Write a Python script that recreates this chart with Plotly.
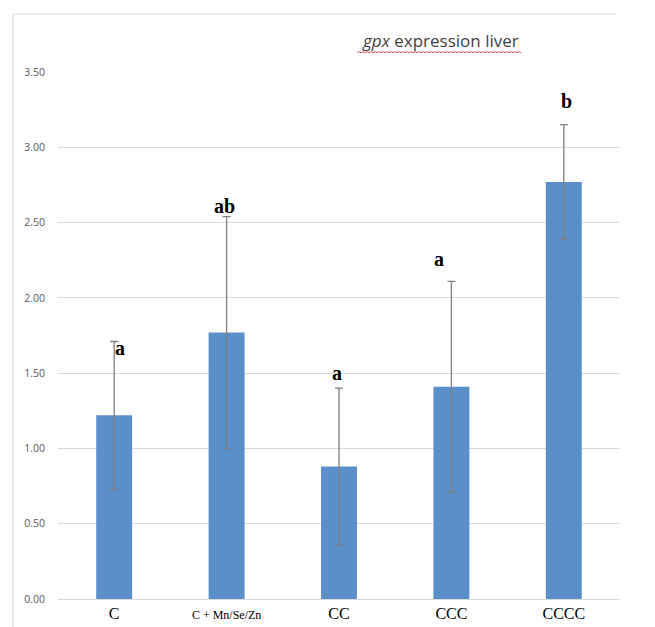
import plotly.graph_objects as go

# Group means, error (+/-), and significance letters
groups = ["C", "C + Mn/Se/Zn", "CC", "CCC", "CCCC"]
means = [1.22, 1.77, 0.88, 1.41, 2.77]
errors = [0.49, 0.77, 0.52, 0.70, 0.38]
letters = ["a", "ab", "a", "a", "b"]
letter_heights = [1.67, 2.61, 1.50, 2.26, 3.31]
letter_shift = [0.05, -0.02, -0.02, -0.11, 0.02]

y_ticks = [0.0, 0.5, 1.0, 1.5, 2.0, 2.5, 3.0, 3.5]

x_pos = list(range(len(groups)))

SERIF = "Liberation Serif, Times New Roman, serif"

fig = go.Figure()
fig.add_trace(go.Bar(
    x=x_pos,
    y=means,
    marker=dict(color="#5b8fc9", line=dict(width=0)),
    error_y=dict(type="data", array=errors, visible=True,
                 color="#7f7f7f", thickness=1.3, width=4),
    width=0.32,
    hoverinfo="skip",
))

annotations = []
for i, (lab, h, dx) in enumerate(zip(letters, letter_heights, letter_shift)):
    annotations.append(dict(
        x=x_pos[i] + dx, y=h, xref="x", yref="y", text=f"<b>{lab}</b>",
        showarrow=False, xanchor="center", yanchor="middle",
        font=dict(family=SERIF, size=20, color="#000000"),
    ))

# chart title
annotations.append(dict(
    x=0.68, y=1.06, xref="paper", yref="paper",
    text="<i>gpx</i> expression liver", showarrow=False,
    xanchor="center", yanchor="middle",
    font=dict(family="Open Sans", size=17, color="#3f3f3f"),
))

# wavy red underline beneath the title
wave = "M0,0"
step = 2.0
n = int(165 / step)
for k in range(1, n + 1):
    yy = 1.5 if k % 2 else 0
    wave += f" L{k * step},{yy}"

shapes = [
    dict(type="path", xref="paper", yref="paper",
         xsizemode="pixel", ysizemode="pixel",
         xanchor=(357 - 58) / 562, yanchor=(599 - 53) / 527,
         path=wave, line=dict(color="#e03c3c", width=0.9)),
    # outer frame (left and top edges)
    dict(type="line", xref="paper", yref="paper",
         x0=(13 - 58) / 562, x1=(13 - 58) / 562,
         y0=(599 - 14) / 527, y1=(599 - 640) / 527,
         line=dict(color="#d9d9d9", width=1.2)),
    dict(type="line", xref="paper", yref="paper",
         x0=(13 - 58) / 562, x1=(617 - 58) / 562,
         y0=(599 - 14) / 527, y1=(599 - 14) / 527,
         line=dict(color="#d9d9d9", width=1.2)),
]

tick_text = [g if g != "C + Mn/Se/Zn" else '<span style="font-size:12px">C + Mn/Se/Zn</span>'
             for g in groups]

fig.update_layout(
    width=655, height=627,
    margin=dict(l=58, r=35, t=72, b=28),
    paper_bgcolor="white", plot_bgcolor="white",
    showlegend=False,
    annotations=annotations,
    shapes=shapes,
    xaxis=dict(
        tickvals=x_pos, ticktext=tick_text,
        range=[-0.5, len(groups) - 0.5],
        showgrid=False, zeroline=False, showline=False, ticks="",
        tickfont=dict(family=SERIF, size=16, color="#000000"),
        ticklabelstandoff=3,
        automargin=False,
        fixedrange=True,
    ),
    yaxis=dict(
        range=[0, 3.5],
        tickvals=y_ticks, ticktext=[f"{v:.2f}" for v in y_ticks],
        showgrid=True, gridcolor="#d9d9d9", gridwidth=1,
        zeroline=True, zerolinecolor="#d9d9d9", zerolinewidth=1,
        showline=False, ticks="",
        tickfont=dict(family="Open Sans", size=10.5, color="#595959"),
        ticklabelstandoff=12,
        automargin=False,
        fixedrange=True,
    ),
)

fig.write_html("out.html")
